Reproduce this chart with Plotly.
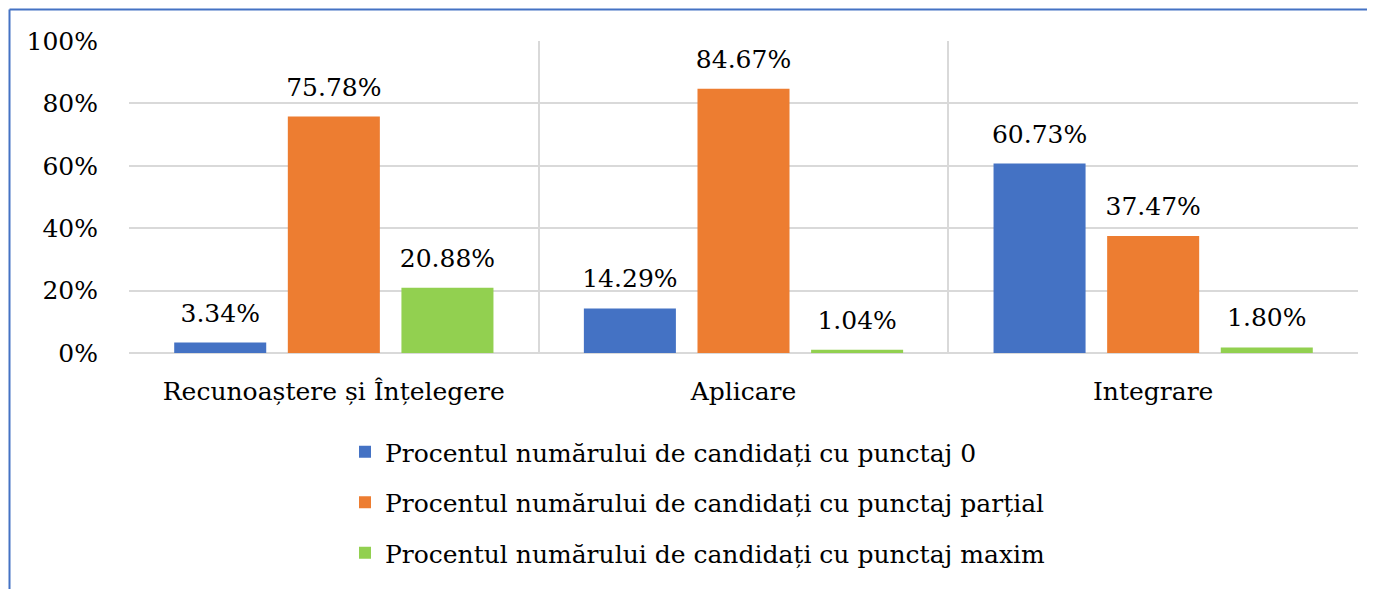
import plotly.graph_objects as go

categories = ["Recunoaștere și Înțelegere", "Aplicare", "Integrare"]
series_names = [
    "Procentul numărului de candidați cu punctaj 0",
    "Procentul numărului de candidați cu punctaj parțial",
    "Procentul numărului de candidați cu punctaj maxim",
]
punctaj_0 = [3.34, 14.29, 60.73]
punctaj_partial = [75.78, 84.67, 37.47]
punctaj_maxim = [20.88, 1.04, 1.80]
y_ticks = [0, 20, 40, 60, 80, 100]
y_tick_labels = ["0%", "20%", "40%", "60%", "80%", "100%"]

colors = ["#4472C4", "#ED7D31", "#92D050"]
FONT = "DejaVu Serif"
FS = 25
BARGAP = 0.168

fig = go.Figure()
for i, (name, vals, col) in enumerate(zip(series_names, [punctaj_0, punctaj_partial, punctaj_maxim], colors)):
    fig.add_trace(go.Bar(
        x=categories, y=vals, name=name,
        marker=dict(color=col, line=dict(width=0)),
        offsetgroup=str(i), legendgroup=name,
        hoverinfo="skip",
    ))
for i, vals in enumerate([punctaj_0, punctaj_partial, punctaj_maxim]):
    fig.add_trace(go.Scatter(
        x=categories, y=vals, mode="text+markers",
        marker=dict(size=22, color="rgba(0,0,0,0)"),
        text=[f"{v:.2f}%" for v in vals],
        textposition="top center",
        textfont=dict(family=FONT, size=FS, color="black"),
        offsetgroup=str(i), cliponaxis=False, showlegend=False,
        hoverinfo="skip",
    ))

OFF = 8  # page body margin
W, H = 1375 - OFF, 589 - OFF
L, R, T, B = 129 - OFF, 17, 41 - OFF, 236
pw, ph = W - L - R, H - T - B

def px_x(px):
    return (px - OFF - L) / pw

def px_y(py):
    return (H - B - (py - OFF)) / ph

fig.update_layout(
    width=W, height=H,
    margin=dict(l=L, r=R, t=T, b=B, autoexpand=False),
    paper_bgcolor="white", plot_bgcolor="white",
    barmode="group", bargap=BARGAP, bargroupgap=0.19,
    scattermode="group", scattergap=BARGAP,
    font=dict(family=FONT, size=FS, color="black"),
    showlegend=True,
    legend=dict(
        orientation="v", x=px_x(345), xanchor="left", y=px_y(429), yanchor="top",
        font=dict(family=FONT, size=FS, color="black"),
        tracegroupgap=15, bgcolor="rgba(0,0,0,0)",
    ),
    xaxis=dict(
        type="category", tickson="boundaries", showgrid=True,
        gridcolor="#D9D9D9", gridwidth=1.5, ticks="", showline=False,
        tickfont=dict(family=FONT, size=FS, color="black"),
        ticklabelstandoff=21,
    ),
    yaxis=dict(
        range=[0, 100], tickvals=y_ticks, ticktext=y_tick_labels,
        showgrid=True, gridcolor="#D9D9D9", gridwidth=1.5,
        zeroline=True, zerolinecolor="#D9D9D9", zerolinewidth=1.5,
        ticks="", showline=False,
        tickfont=dict(family=FONT, size=FS, color="black"),
        ticklabelstandoff=30,
    ),
    shapes=[
        dict(type="line", xref="paper", yref="paper",
             x0=px_x(9.5), x1=px_x(9.5), y0=px_y(9.5), y1=px_y(600),
             line=dict(color="#4472C4", width=2)),
        dict(type="line", xref="paper", yref="paper",
             x0=px_x(9.5), x1=px_x(1380), y0=px_y(9.5), y1=px_y(9.5),
             line=dict(color="#4472C4", width=2)),
    ],
)

fig.write_html("out.html")
